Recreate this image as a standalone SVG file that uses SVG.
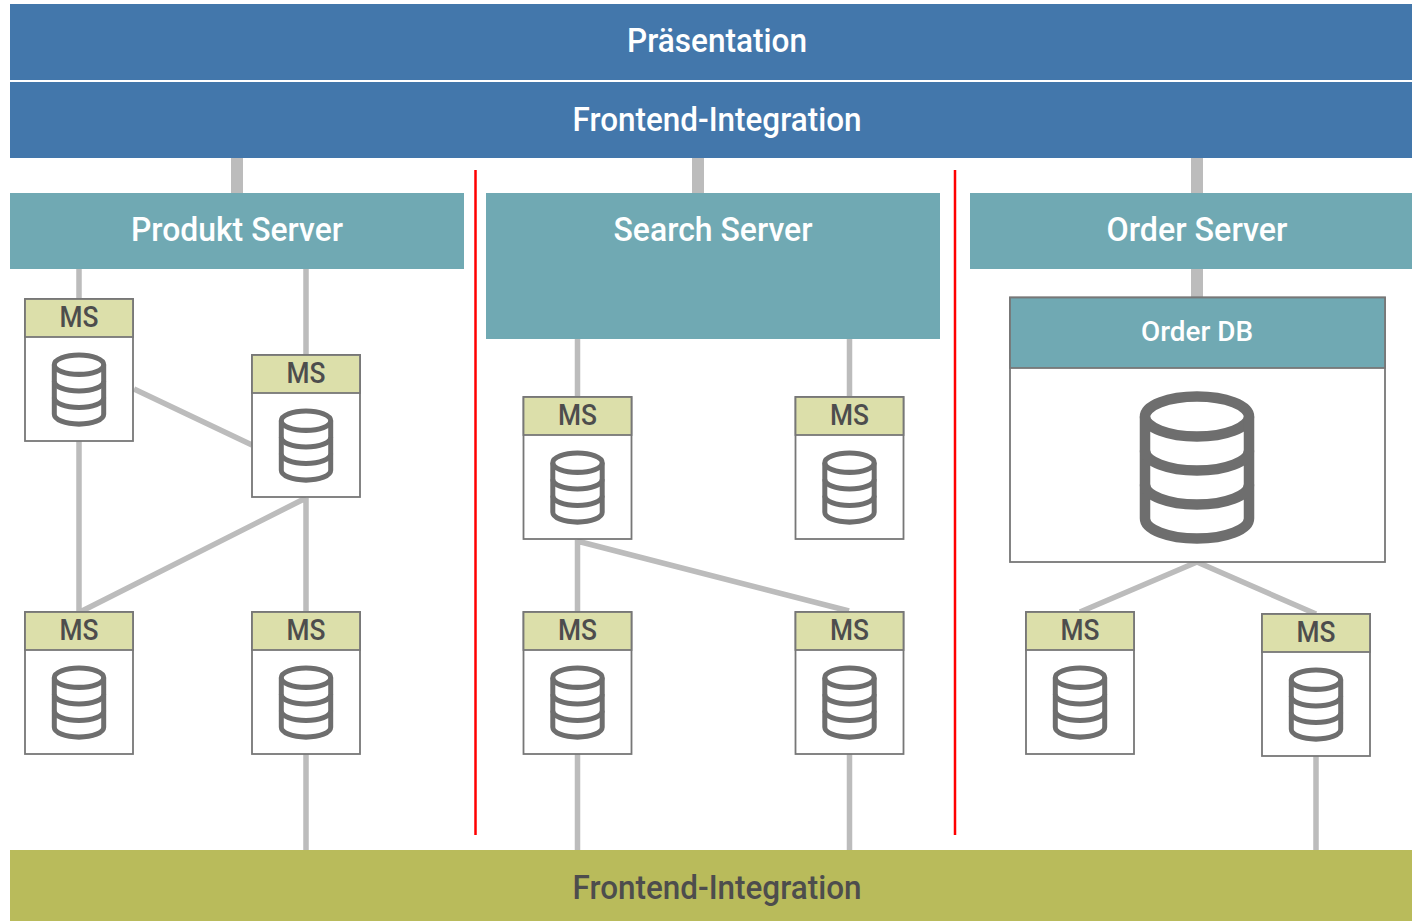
<svg xmlns="http://www.w3.org/2000/svg" width="1412" height="921" viewBox="0 0 1412 921">
<style>
.t{font-family:Roboto,"Liberation Sans",sans-serif;text-anchor:middle;font-weight:500}
.w{fill:#fff}
.blue{fill:#4377ab}
.teal{fill:#70a9b3}
.olive{fill:#b9bb5b}
.box{fill:#fff;stroke:#777;stroke-width:1.800}
.hd{fill:#dcdfaa;stroke:#777;stroke-width:1.800}
.ms{font-size:30px;fill:#4d4d4d}
.c{stroke:#bcbcbc;stroke-width:5.500;fill:none}
.ct{stroke:#bcbcbc;stroke-width:12;fill:none}
.r{stroke:#f00;stroke-width:2.500;fill:none}
.db{fill:none;stroke:#6e6e6e;stroke-width:10.500}
</style>
<defs>
<g id="cyl" class="db">
<ellipse cx="0" cy="25" rx="52" ry="20"/>
<path d="M-52 25V127C-52 138 -29 147 0 147S52 138 52 127V25"/>
<path d="M-52 59C-52 70 -29 79 0 79S52 70 52 59"/>
<path d="M-52 93C-52 104 -29 113 0 113S52 104 52 93"/>
</g>
<g id="ms">
<rect class="box" x="0" y="0" width="108" height="142"/>
<rect class="hd" x="0" y="0" width="108" height="38"/>
<text class="t ms" x="54" y="27.500" textLength="39" lengthAdjust="spacingAndGlyphs">MS</text>
<use href="#cyl" transform="translate(54 53.500) scale(.475 .487)"/>
</g>
</defs>
<g id="connectors">
<path class="ct" d="M237 158V193M698 158V193M1197 158V193M1197 269V297"/>
<path class="c" d="M79 269V299M306 269V355M134 389L252 445M79 441V612M306 498L80 612M306 498V612M306 754V850"/>
<path class="c" d="M577.500 339V397M849.500 339V397M577.500 540V612M577 541L849 611M577.500 754V850M849.500 754V850"/>
<path class="c" d="M1197 562L1080 612M1197 562L1316 614M1316 756V850"/>
<path class="r" d="M475.500 170V835M955 170V835"/>
</g>
<g id="praesentation"><rect class="blue" x="10" y="4" width="1402" height="76"/><text class="t w" x="717" y="52" font-size="33" textLength="180" lengthAdjust="spacingAndGlyphs">Präsentation</text></g>
<g id="frontend-top"><rect class="blue" x="10" y="82" width="1402" height="76"/><text class="t w" x="717" y="131" font-size="33" textLength="289" lengthAdjust="spacingAndGlyphs">Frontend-Integration</text></g>
<g id="produkt-server"><rect class="teal" x="10" y="193" width="454" height="76"/><text class="t w" x="237" y="241" font-size="33" textLength="212" lengthAdjust="spacingAndGlyphs">Produkt Server</text></g>
<g id="search-server"><rect class="teal" x="486" y="193" width="454" height="146"/><text class="t w" x="713" y="241" font-size="33" textLength="199" lengthAdjust="spacingAndGlyphs">Search Server</text></g>
<g id="order-server"><rect class="teal" x="970" y="193" width="442" height="76"/><text class="t w" x="1197" y="241" font-size="33" textLength="181" lengthAdjust="spacingAndGlyphs">Order Server</text></g>
<g id="order-db">
<rect class="box" x="1010" y="297.500" width="375" height="264.500"/>
<rect class="teal" x="1010" y="297.500" width="375" height="70.500" stroke="#777" stroke-width="1.800"/>
<text class="t w" x="1197" y="341" font-size="28" textLength="112" lengthAdjust="spacingAndGlyphs">Order DB</text>
<use href="#cyl" transform="translate(1197 391.500)"/>
</g>
<g id="ms1"><use href="#ms" x="25" y="299"/></g>
<g id="ms2"><use href="#ms" x="252" y="355"/></g>
<g id="ms3"><use href="#ms" x="25" y="612"/></g>
<g id="ms4"><use href="#ms" x="252" y="612"/></g>
<g id="ms5"><use href="#ms" x="523.500" y="397"/></g>
<g id="ms6"><use href="#ms" x="795.500" y="397"/></g>
<g id="ms7"><use href="#ms" x="523.500" y="612"/></g>
<g id="ms8"><use href="#ms" x="795.500" y="612"/></g>
<g id="ms9"><use href="#ms" x="1026" y="612"/></g>
<g id="ms10"><use href="#ms" x="1262" y="614"/></g>
<g id="frontend-bottom"><rect class="olive" x="10" y="850" width="1402" height="71"/><text fill="#4d4d4d" class="t" x="717" y="899" font-size="33" textLength="289" lengthAdjust="spacingAndGlyphs">Frontend-Integration</text></g>
</svg>
